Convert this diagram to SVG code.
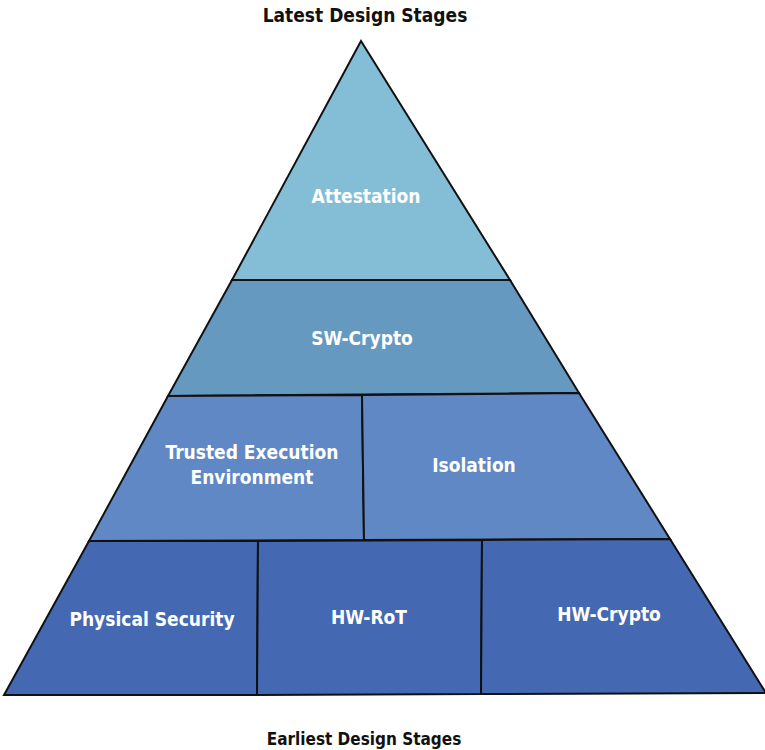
<svg xmlns="http://www.w3.org/2000/svg" width="765" height="750" viewBox="0 0 765 750">
<style>
.cell{stroke:#111;stroke-width:2;stroke-linejoin:miter}
.l1{fill:#84bdd6}.l2{fill:#6699c0}.l3{fill:#5f88c4}.l4{fill:#4468b2}
.lbl{font-family:"DejaVu Sans Condensed","DejaVu Sans",sans-serif;font-stretch:condensed;font-weight:bold;font-size:19px;fill:#fff;text-anchor:middle}
.cap{font-family:"DejaVu Sans Condensed","DejaVu Sans",sans-serif;font-stretch:condensed;font-weight:bold;font-size:19px;fill:#111;text-anchor:middle}
</style>
<rect width="765" height="750" fill="#fff"/>
<text class="cap" x="365" y="22">Latest Design Stages</text>
<text class="cap" x="364" y="745" style="font-size:17px">Earliest Design Stages</text>
<g id="attestation"><polygon class="cell l1" points="361,41 510,280 232,280"/><text class="lbl" x="366" y="203">Attestation</text></g>
<g id="sw-crypto"><polygon class="cell l2" points="232,280 510,280 579,393 168,396"/><text class="lbl" x="362" y="345">SW-Crypto</text></g>
<g id="tee"><polygon class="cell l3" points="168,396 362,395 364,540 89,541"/><text class="lbl" x="252" y="459">Trusted Execution</text><text class="lbl" x="252" y="484">Environment</text></g>
<g id="isolation"><polygon class="cell l3" points="362,395 579,393 670,539 364,540"/><text class="lbl" x="474" y="472">Isolation</text></g>
<g id="physical-security"><polygon class="cell l4" points="89,541 258,541 257,695 4,695"/><text class="lbl" x="152" y="626">Physical Security</text></g>
<g id="hw-rot"><polygon class="cell l4" points="258,541 482,540 481,694 257,695"/><text class="lbl" x="369" y="624">HW-RoT</text></g>
<g id="hw-crypto"><polygon class="cell l4" points="482,540 670,539 766,693 481,694"/><text class="lbl" x="609" y="621">HW-Crypto</text></g>
<g id="connectors"></g>
</svg>
